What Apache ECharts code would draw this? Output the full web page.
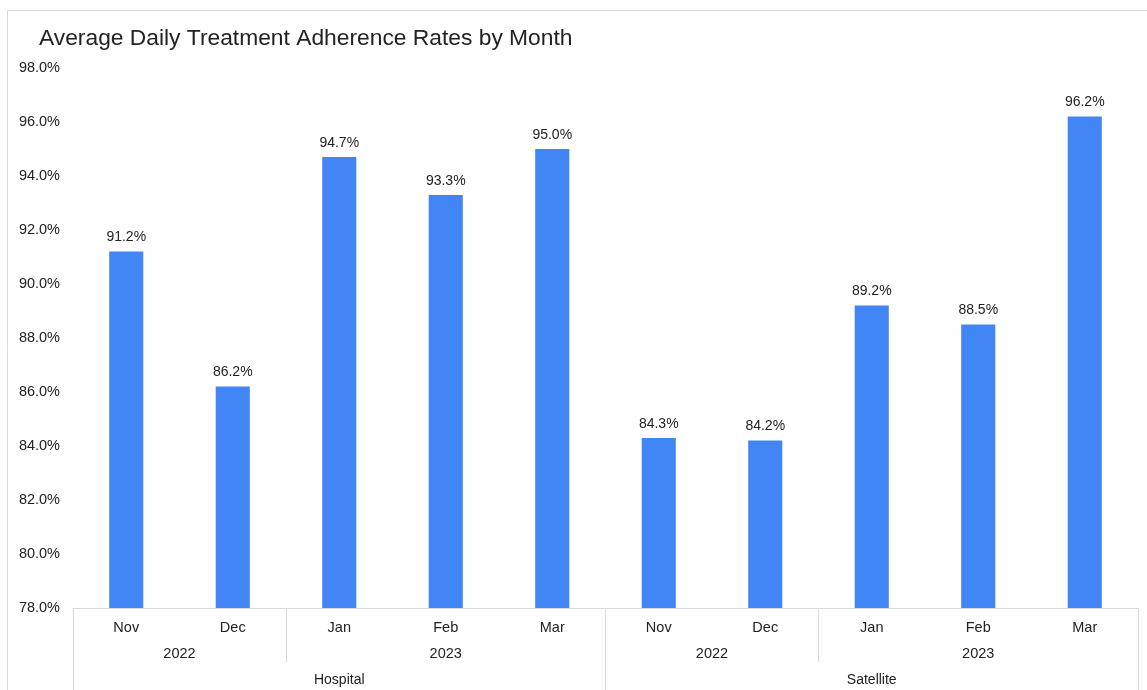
<!DOCTYPE html>
<html>
<head>
<meta charset="utf-8">
<script src="https://cdn.jsdelivr.net/npm/echarts@6/dist/echarts.min.js"></script>
<style>
html,body{margin:0;padding:0;background:#fff;}
#chart{width:1147px;height:690px;}
</style>
</head>
<body>
<div id="chart"></div>
<script>
// ---- data ----
const months = ['Nov','Dec','Jan','Feb','Mar','Nov','Dec','Jan','Feb','Mar'];
const years = ['2022','2022','2023','2023','2023','2022','2022','2023','2023','2023'];
const sites = ['Hospital','Hospital','Hospital','Hospital','Hospital','Satellite','Satellite','Satellite','Satellite','Satellite'];
const adherence = [91.2, 86.2, 94.7, 93.3, 95.0, 84.3, 84.2, 89.2, 88.5, 96.2];
const yTicks = [78, 80, 82, 84, 86, 88, 90, 92, 94, 96, 98];

// build group spans (in category-slot units) for the upper axis levels
function groups(keyFn) {
  const out = [];
  for (let i = 0; i < months.length; i++) {
    const k = keyFn(i);
    if (out.length && out[out.length - 1].key === k) out[out.length - 1].end = i + 1;
    else out.push({ key: k, start: i, end: i + 1 });
  }
  return out;
}
const yearGroups = groups(i => sites[i] + '|' + years[i]).map(g => ({ ...g, label: years[g.start] }));
const siteGroups = groups(i => sites[i]).map(g => ({ ...g, label: sites[g.start] }));

const n = months.length;
const yearCenters = yearGroups.map(g => (g.start + g.end) / 2);
const siteCenters = siteGroups.map(g => (g.start + g.end) / 2);
const siteEdges = [0].concat(siteGroups.map(g => g.end));
const yearEdgesInner = yearGroups.map(g => g.start).filter(v => !siteEdges.includes(v));

const textColor = '#222';
const lineColor = '#d9d9d9';
const font = 'Liberation Sans, Arial, sans-serif';

const chart = echarts.init(document.getElementById('chart'));
chart.setOption({
  animation: false,
  textStyle: { fontFamily: font },
  title: {
    text: 'Average Daily Treatment Adherence Rates by Month',
    left: 34, top: 22,
    textStyle: { fontSize: 22.8, fontWeight: 'normal', color: textColor, fontFamily: font }
  },
  graphic: [{
    type: 'rect', z: -1, silent: true,
    shape: { x: 7.5, y: 10.5, width: 1200, height: 700 },
    style: { fill: 'none', stroke: lineColor, lineWidth: 1 }
  }],
  grid: { left: 73, right: 9, top: 68, bottom: 82, containLabel: false },
  xAxis: [
    {
      type: 'category', data: months, position: 'bottom',
      axisLine: { show: true, lineStyle: { color: lineColor, width: 1 } },
      axisTick: { show: false },
      axisLabel: { color: textColor, fontSize: 14.5, margin: 12, interval: 0 }
    },
    {
      type: 'value', min: 0, max: n, position: 'bottom', gridIndex: 0,
      axisLine: { show: false }, splitLine: { show: false },
      axisTick: { show: true, customValues: siteEdges, length: 82, inside: false,
        lineStyle: { color: lineColor, width: 1 } },
      axisLabel: { show: true, customValues: siteCenters, margin: 65, fontSize: 14, color: textColor,
        formatter: v => { const i = siteCenters.indexOf(v); return i >= 0 ? siteGroups[i].label : ''; } }
    },
    {
      type: 'value', min: 0, max: n, position: 'bottom', gridIndex: 0,
      axisLine: { show: false }, splitLine: { show: false },
      axisTick: { show: true, customValues: yearEdgesInner, length: 54,
        lineStyle: { color: lineColor, width: 1 } },
      axisLabel: { show: true, customValues: yearCenters, margin: 38, fontSize: 14.5, color: textColor,
        formatter: v => { const i = yearCenters.indexOf(v); return i >= 0 ? yearGroups[i].label : ''; } }
    }
  ],
  yAxis: {
    type: 'value', min: yTicks[0], max: yTicks[yTicks.length - 1], interval: yTicks[1] - yTicks[0],
    axisLine: { show: false }, axisTick: { show: false }, splitLine: { show: false },
    axisLabel: { color: textColor, fontSize: 14.5, margin: 13, formatter: v => v.toFixed(1) + '%' }
  },
  series: [{
    type: 'bar', xAxisIndex: 0, data: adherence, barWidth: '32%',
    itemStyle: { color: '#4285F4' },
    label: { show: true, position: 'top', distance: 7, fontSize: 14, color: textColor,
      formatter: p => p.value.toFixed(1) + '%' }
  }]
});
</script>
</body>
</html>
